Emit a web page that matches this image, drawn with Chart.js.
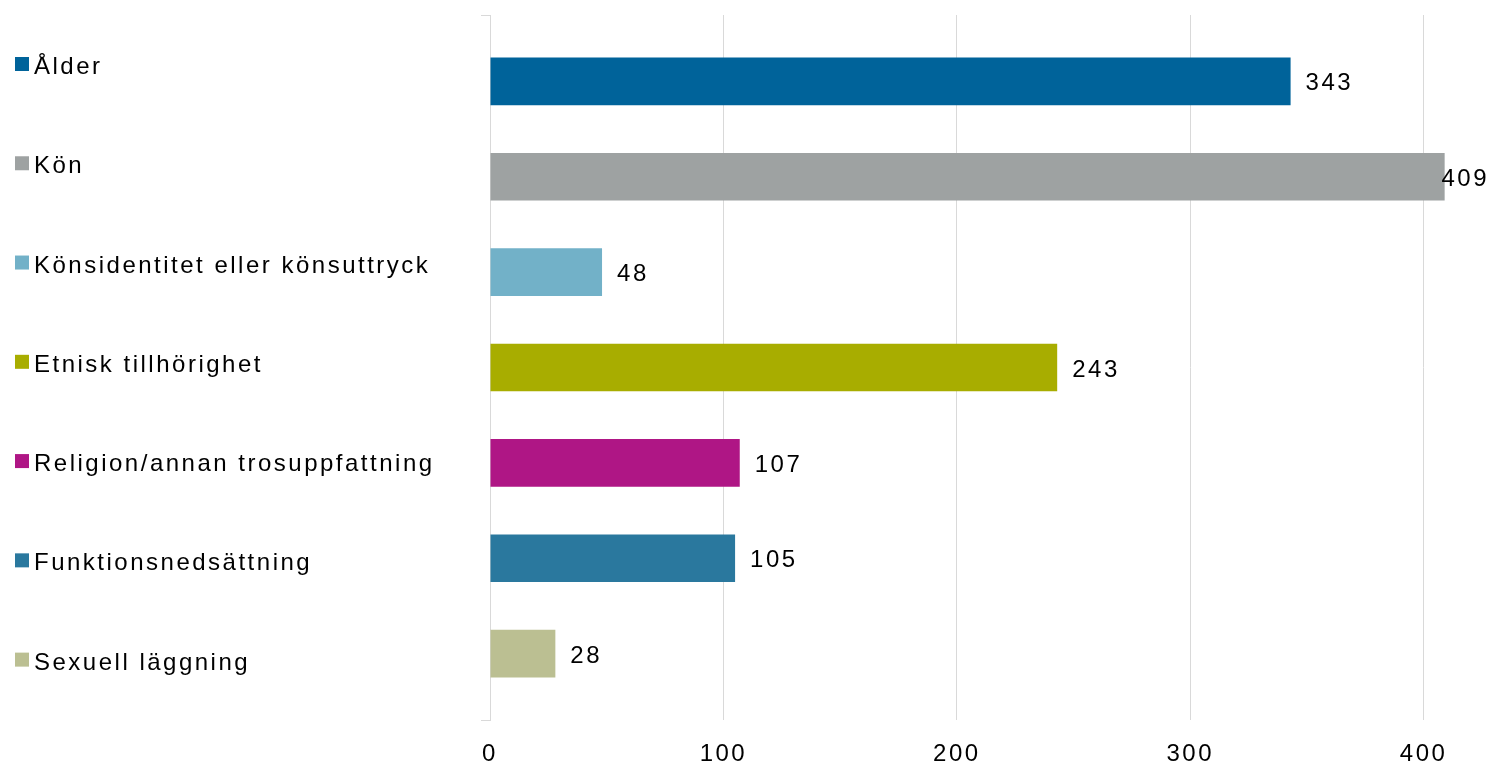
<!DOCTYPE html>
<html lang="sv">
<head>
<meta charset="utf-8">
<title>Anmälningar per diskrimineringsgrund</title>
<script src="https://cdn.jsdelivr.net/npm/chart.js@4.4.1/dist/chart.umd.min.js"></script>
<style>
  html, body { margin: 0; padding: 0; background: #fff; }
  canvas { display: block; }
</style>
</head>
<body>
<canvas id="grundChart" width="1489" height="766"></canvas>
<script>
// Discrimination grounds, one dataset each (listed top to bottom)
const categories = [
    'Ålder',
    'Kön',
    'Könsidentitet eller könsuttryck',
    'Etnisk tillhörighet',
    'Religion/annan trosuppfattning',
    'Funktionsnedsättning',
    'Sexuell läggning'
];
const counts = [343, 409, 48, 243, 107, 105, 28];
const barColors = ['#00639a', '#9ea2a2', '#72b1c8', '#a8ad00', '#af1685', '#2a789e', '#bbbf92'];
const xTicks = [0, 100, 200, 300, 400];

const FONT_FAMILY = '"Liberation Sans", Arial, sans-serif';
const FONT = '24px ' + FONT_FAMILY;
const SPACING = '2.5px';

// Wider tracking for every text drawn on the canvas
const letterSpacingPlugin = {
    id: 'letterSpacing',
    beforeDraw(chart) {
        chart.ctx.letterSpacing = SPACING;
    }
};

// Legend column on the left: colour square + label
const sideLegend = {
    id: 'sideLegend',
    afterDraw(chart) {
        const ctx = chart.ctx;
        ctx.save();
        ctx.letterSpacing = SPACING;
        ctx.font = FONT;
        ctx.textBaseline = 'alphabetic';
        ctx.textAlign = 'left';
        chart.data.datasets.forEach((ds, i) => {
            const cy = 64 + i * 99.27;
            ctx.fillStyle = ds.backgroundColor;
            ctx.fillRect(15, cy - 7, 14, 14);
            ctx.fillStyle = '#000';
            ctx.fillText(ds.label, 34, cy + 10);
        });
        ctx.restore();
    }
};

// Value labels right of each bar, kept inside the canvas
const valueLabels = {
    id: 'valueLabels',
    afterDatasetsDraw(chart) {
        const ctx = chart.ctx;
        ctx.save();
        ctx.letterSpacing = SPACING;
        ctx.font = FONT;
        ctx.fillStyle = '#000';
        ctx.textBaseline = 'alphabetic';
        ctx.textAlign = 'left';
        chart.data.datasets.forEach((ds, i) => {
            const bar = chart.getDatasetMeta(i).data[0];
            const text = String(ds.data[0]);
            const w = ctx.measureText(text).width;
            let x = bar.x + 15;
            if (x + w > chart.width) x = chart.width - w;
            ctx.fillText(text, x, bar.y + 9);
        });
        ctx.restore();
    }
};

const datasets = categories.map((name, i) => ({
    label: name,
    data: [counts[i]],
    backgroundColor: barColors[i],
    borderWidth: 0,
    categoryPercentage: 0.947,
    barPercentage: 0.5
}));

new Chart(document.getElementById('grundChart'), {
    type: 'bar',
    data: {
        labels: [''],
        datasets: datasets
    },
    options: {
        indexAxis: 'y',
        responsive: false,
        devicePixelRatio: 1,
        animation: false,
        layout: {
            padding: { top: 15, left: 481, right: 0, bottom: 0 }
        },
        scales: {
            x: {
                min: 0,
                max: 428,
                afterBuildTicks: axis => {
                    axis.ticks = xTicks.map(v => ({ value: v }));
                },
                afterFit: axis => {
                    axis.height = 46;
                },
                grid: {
                    color: '#d9d9d9',
                    lineWidth: 1,
                    drawTicks: false
                },
                border: { display: false },
                ticks: {
                    font: { family: FONT_FAMILY, size: 24 },
                    color: '#000',
                    padding: 20,
                    maxRotation: 0
                }
            },
            y: {
                type: 'category',
                ticks: { display: false },
                grid: {
                    color: '#d9d9d9',
                    drawOnChartArea: false,
                    drawTicks: true,
                    tickLength: 9
                },
                border: { display: true, color: '#d9d9d9' }
            }
        },
        plugins: {
            legend: { display: false },
            tooltip: { enabled: false }
        }
    },
    plugins: [letterSpacingPlugin, sideLegend, valueLabels]
});
</script>
</body>
</html>
